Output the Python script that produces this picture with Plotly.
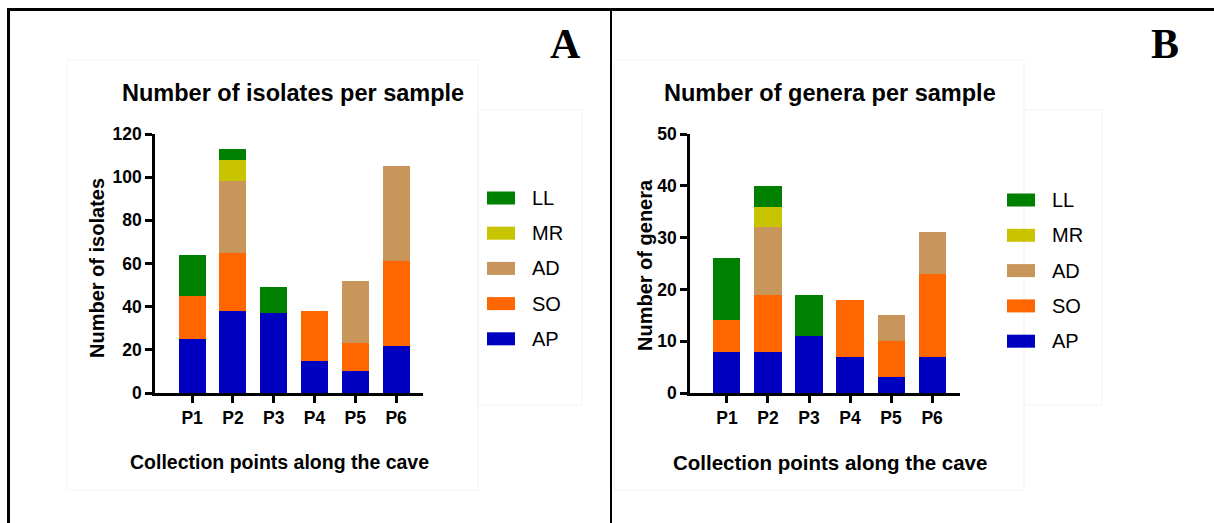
import plotly.graph_objects as go

# ---------------- data ----------------
points = ["P1", "P2", "P3", "P4", "P5", "P6"]
series = ["AP", "SO", "AD", "MR", "LL"]
colors = ["#0000C0", "#FF6600", "#C8965A", "#C8C400", "#008000"]

# Panel A: number of isolates per sample
iso_AP = [25, 38, 37, 15, 10, 22]
iso_SO = [20, 27, 0, 23, 13, 39]
iso_AD = [0, 33, 0, 0, 29, 44]
iso_MR = [0, 10, 0, 0, 0, 0]
iso_LL = [19, 5, 12, 0, 0, 0]

# Panel B: number of genera per sample
gen_AP = [8, 8, 11, 7, 3, 7]
gen_SO = [6, 11, 0, 11, 7, 16]
gen_AD = [0, 13, 0, 0, 5, 8]
gen_MR = [0, 4, 0, 0, 0, 0]
gen_LL = [12, 4, 8, 0, 0, 0]

iso_tickvals = [0, 20, 40, 60, 80, 100, 120]
gen_tickvals = [0, 10, 20, 30, 40, 50]

# ---------------- layout helpers ----------------
W, H = 1214, 523
def px(x):
    return x / W
def py(y):
    return 1 - y / H

FONT = "Liberation Sans, Arial, sans-serif"
SERIF = "Liberation Serif, Times New Roman, serif"

fig = go.Figure()

iso_vals = [iso_AP, iso_SO, iso_AD, iso_MR, iso_LL]
gen_vals = [gen_AP, gen_SO, gen_AD, gen_MR, gen_LL]

for name, col, vals in zip(series, colors, iso_vals):
    fig.add_trace(go.Bar(x=points, y=vals, name=name, marker=dict(color=col, line=dict(width=0)),
                         width=0.66, xaxis="x", yaxis="y", showlegend=False))
for name, col, vals in zip(series, colors, gen_vals):
    fig.add_trace(go.Bar(x=points, y=vals, name=name, marker=dict(color=col, line=dict(width=0)),
                         width=0.66, xaxis="x2", yaxis="y2", showlegend=False))

axis_common = dict(
    showline=True, linecolor="black", linewidth=2.5,
    ticks="outside", tickcolor="black", tickwidth=2.5, ticklen=7,
    showgrid=False, zeroline=False, automargin=False,
    tickfont=dict(family=FONT, size=17.5, color="black", weight="bold"),
)

yd = [py(393), py(134)]
fig.update_layout(
    width=W, height=H, autosize=False,
    margin=dict(l=0, r=0, t=0, b=0, pad=0),
    paper_bgcolor="white", plot_bgcolor="white",
    barmode="stack", bargap=0,
    xaxis=dict(domain=[px(155), px(423)], range=[-0.91, 5.66], anchor="y", **axis_common),
    yaxis=dict(domain=yd, range=[0, 120], tickvals=iso_tickvals, anchor="x", **axis_common),
    xaxis2=dict(domain=[px(690), px(960)], range=[-0.9, 5.68], anchor="y2", **axis_common),
    yaxis2=dict(domain=yd, range=[0, 50], tickvals=gen_tickvals, anchor="x2", **axis_common),
)

annotations = []
shapes = []

def txt(x, y, s, size, bold=True, family=FONT, angle=0, xanchor="center"):
    annotations.append(dict(
        x=px(x), y=py(y), xref="paper", yref="paper", text=s, showarrow=False,
        xanchor=xanchor, yanchor="middle", textangle=angle,
        font=dict(family=family, size=size, color="black", weight="bold" if bold else "normal"),
    ))

# titles
txt(293, 93, "Number of isolates per sample", 23.5)
txt(830, 93, "Number of genera per sample", 23.5)
# axis titles
txt(97, 268, "Number of isolates", 20)
annotations[-1]["textangle"] = -90
txt(645, 265, "Number of genera", 20, angle=-90)
txt(279, 462, "Collection points along the cave", 19.5)
txt(830, 462, "Collection points along the cave", 20.5)
# panel letters
txt(565, 44, "A", 42, family=SERIF)
txt(1165, 44, "B", 42, family=SERIF)

# legends (drawn in the panel's legend area, LL at top)
def legend(x0, text_x, y_top, step):
    for i, (name, col) in enumerate(reversed(list(zip(series, colors)))):
        yc = y_top + i * step
        shapes.append(dict(type="rect", xref="paper", yref="paper",
                           x0=px(x0), x1=px(x0 + 28), y0=py(yc - 6.5), y1=py(yc + 6.5),
                           fillcolor=col, line=dict(width=0)))
        txt(text_x, yc, name, 20, bold=False, xanchor="left")

legend(487, 530, 198, 35.2)
legend(1007, 1050, 200, 35.3)

# faint background panels of the original figure
for (x0, x1) in [(67, 478), (614, 1024)]:
    shapes.append(dict(type="rect", xref="paper", yref="paper",
                       x0=px(x0), x1=px(x1), y0=py(490), y1=py(60),
                       line=dict(color="#f3f3f3", width=1), fillcolor="rgba(0,0,0,0)", layer="below"))
for (x0, x1) in [(478, 582), (1024, 1102)]:
    shapes.append(dict(type="rect", xref="paper", yref="paper",
                       x0=px(x0), x1=px(x1), y0=py(405), y1=py(110),
                       line=dict(color="#f3f3f3", width=1), fillcolor="rgba(0,0,0,0)", layer="below"))

# outer frame
shapes.append(dict(type="line", xref="paper", yref="paper", x0=px(7), x1=1, y0=py(9.5), y1=py(9.5),
                   line=dict(color="black", width=3)))
shapes.append(dict(type="line", xref="paper", yref="paper", x0=px(8.5), x1=px(8.5), y0=py(8), y1=0,
                   line=dict(color="black", width=3)))
shapes.append(dict(type="line", xref="paper", yref="paper", x0=px(611), x1=px(611), y0=py(9), y1=0,
                   line=dict(color="black", width=2)))

fig.update_layout(annotations=annotations, shapes=shapes)

fig.write_html("out.html", config={"displayModeBar": False},
               post_script="document.body.style.margin='0';document.body.style.overflow='hidden';")
